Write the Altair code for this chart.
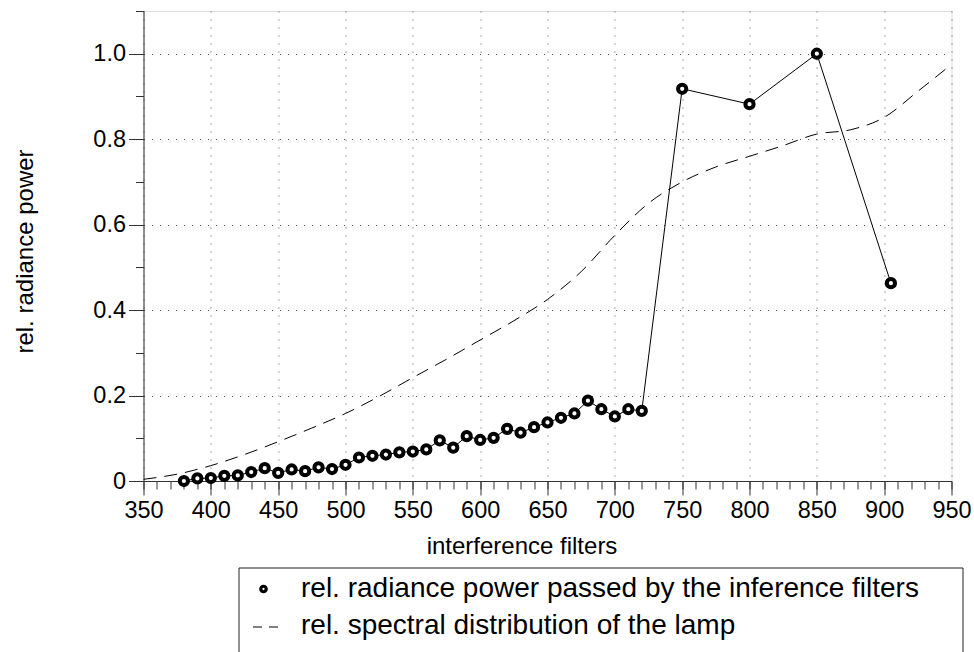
import altair as alt
import pandas as pd

# ---- data ----
filter_nm = [380, 390, 400, 410, 420, 430, 440, 450, 460, 470, 480, 490, 500,
             510, 520, 530, 540, 550, 560, 570, 580, 590, 600, 610, 620, 630,
             640, 650, 660, 670, 680, 690, 700, 710, 720, 750, 800, 850, 905]
radiance = [0.000, 0.006, 0.007, 0.012, 0.013, 0.021, 0.030, 0.019, 0.027, 0.023,
            0.032, 0.028, 0.038, 0.055, 0.059, 0.062, 0.067, 0.069, 0.074, 0.095,
            0.078, 0.105, 0.096, 0.101, 0.122, 0.113, 0.126, 0.137, 0.148, 0.158,
            0.188, 0.168, 0.151, 0.168, 0.164, 0.918, 0.882, 1.000, 0.463]

lamp_nm = [350, 375, 400, 425, 450, 475, 500, 525, 550, 575, 600, 625, 650,
           675, 700, 725, 750, 775, 800, 825, 850, 875, 900, 925, 950]
lamp_rel = [0.004, 0.016, 0.036, 0.062, 0.092, 0.124, 0.158, 0.198, 0.242, 0.285,
            0.330, 0.375, 0.425, 0.490, 0.575, 0.650, 0.700, 0.735, 0.760, 0.785,
            0.812, 0.822, 0.851, 0.912, 0.975]

legend_labels = ["rel. radiance power passed by the inference filters",
                 "rel. spectral distribution of the lamp"]

x_major = list(range(350, 951, 50))
x_minor = list(range(350, 951, 10))
y_major = [0, 0.2, 0.4, 0.6, 0.8, 1.0]
y_minor = [round(i * 0.1, 1) for i in range(0, 12)]

FONT = "Liberation Sans"
W, H = 808, 470

pts = pd.DataFrame({"nm": filter_nm, "rel": radiance})
lamp = pd.DataFrame({"nm": lamp_nm, "rel": lamp_rel})

xscale = alt.Scale(domain=[350, 950], nice=False, zero=False)
yscale = alt.Scale(domain=[0, 1.1], nice=False, zero=False)

x_major_axis = alt.Axis(values=x_major, format="d", grid=True, gridDash=[1, 7],
                        gridColor="#555", gridOpacity=1, tickSize=14,
                        labelFontSize=23.5, labelPadding=3, labelColor="black",
                        labelFont=FONT, tickColor="#333", domainColor="#333",
                        labelFlush=False, labelOverlap=False,
                        title="interference filters", titleFont=FONT,
                        titleFontSize=24, titleFontWeight="normal",
                        titleX=378, titleY=65, titleBaseline="middle",
                        titleAlign="center", orient="bottom")
y_major_axis = alt.Axis(values=y_major, grid=True, gridDash=[1, 7],
                        gridColor="#555", gridOpacity=1, tickSize=15,
                        labelFontSize=23.5, labelPadding=3, labelColor="black",
                        labelFont=FONT, tickColor="#333", domainColor="#333",
                        labelFlush=False, labelOverlap=False,
                        labelExpr="datum.value == 0 ? '0' : format(datum.value, '.1f')",
                        title="rel. radiance power", titleFont=FONT,
                        titleFontSize=24, titleFontWeight="normal",
                        titleX=-118, titleY=240, titleAngle=270,
                        titleBaseline="middle", titleAlign="center", orient="left")

x_minor_axis = alt.Axis(values=x_minor, labels=False, tickSize=8, grid=False,
                        domain=False, title=None, tickColor="#333", orient="bottom")
y_minor_axis = alt.Axis(values=y_minor, labels=False, tickSize=8, grid=False,
                        domain=False, title=None, tickColor="#333", orient="left")

base_minor = alt.Chart(lamp).mark_line(opacity=0).encode(
    x=alt.X("nm:Q", scale=xscale, axis=x_minor_axis),
    y=alt.Y("rel:Q", scale=yscale, axis=y_minor_axis),
)

lamp_line = alt.Chart(lamp).mark_line(
    color="black", strokeWidth=1, strokeDash=[13, 8], interpolate="monotone"
).encode(
    x=alt.X("nm:Q", scale=xscale, axis=x_major_axis),
    y=alt.Y("rel:Q", scale=yscale, axis=y_major_axis),
)

rad_line = alt.Chart(pts).mark_line(color="black", strokeWidth=1).encode(
    x=alt.X("nm:Q", scale=xscale, axis=None), y=alt.Y("rel:Q", scale=yscale, axis=None)
)
rad_pts = alt.Chart(pts).mark_point(
    shape="circle", filled=False, fill="white", fillOpacity=1, stroke="black",
    strokeWidth=4, size=68, opacity=1
).encode(x=alt.X("nm:Q", scale=xscale, axis=None),
         y=alt.Y("rel:Q", scale=yscale, axis=None))

# ---- manual legend below the plot ----
one = pd.DataFrame({"k": [0]})
leg_box = alt.Chart(one).mark_rect(fill="white", stroke="#222", strokeWidth=1).encode(
    x=alt.value(95.5), x2=alt.value(819.5), y=alt.value(557), y2=alt.value(700)
)
leg_pt = alt.Chart(one).mark_point(
    shape="circle", filled=False, fill="white", fillOpacity=1, stroke="black",
    strokeWidth=3.2, size=30, opacity=1
).encode(x=alt.value(120), y=alt.value(578))
leg_dash = alt.Chart(one).mark_rule(color="black", strokeWidth=1, strokeDash=[9, 7]).encode(
    x=alt.value(109.5), x2=alt.value(138), y=alt.value(616)
)
leg_t1 = alt.Chart(one).mark_text(
    text=legend_labels[0], align="left", baseline="middle", font=FONT, fontSize=28,
    color="black"
).encode(x=alt.value(157.5), y=alt.value(578))
leg_t2 = alt.Chart(one).mark_text(
    text=legend_labels[1], align="left", baseline="middle", font=FONT, fontSize=28,
    color="black"
).encode(x=alt.value(157.5), y=alt.value(615))

chart = alt.layer(
    base_minor, lamp_line, rad_line, rad_pts,
    leg_box, leg_pt, leg_dash, leg_t1, leg_t2
).resolve_axis(x="independent", y="independent").properties(
    width=W, height=H,
    autosize=alt.AutoSizeParams(type="none"),
    padding={"left": 143.5, "top": 11, "right": 22, "bottom": 171},
).configure_view(stroke="#555", strokeWidth=1.5).configure(background="white")

chart.save("out.html", embed_options={"renderer": "svg", "actions": False})
